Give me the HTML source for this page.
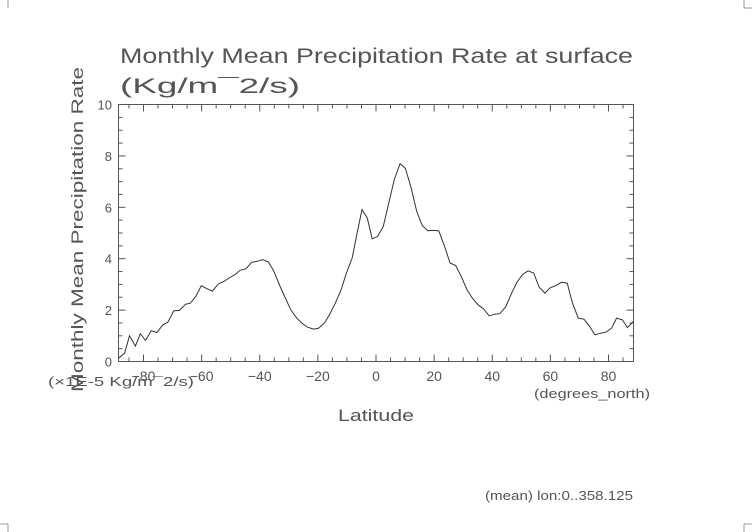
<!DOCTYPE html>
<html><head><meta charset="utf-8"><style>
html,body{margin:0;padding:0;background:#fff;}
svg{display:block;font-family:"Liberation Sans",sans-serif;}
text{fill:#555;}
</style></head><body>
<svg id="chart" width="752" height="532" viewBox="0 0 752 532">
<g stroke="#999" stroke-width="1">
<path d="M8 0v8M744 0v8M752 8h-8M8 532v-8M0 524h8M744 532v-8M752 524h-8" fill="none"/>
</g>
<text x="120" y="63" font-size="21" textLength="513" lengthAdjust="spacingAndGlyphs">Monthly Mean Precipitation Rate at surface</text>
<text x="120" y="93" font-size="21" textLength="180" lengthAdjust="spacingAndGlyphs">(Kg/m¯2/s)</text>
<text transform="translate(83,392) rotate(-90)" font-size="17" textLength="325" lengthAdjust="spacingAndGlyphs">Monthly Mean Precipitation Rate</text>
<text x="48" y="386" font-size="13" textLength="146" lengthAdjust="spacingAndGlyphs">(×1E-5 Kg/m¯2/s)</text>
<text x="376" y="421" font-size="17" text-anchor="middle" textLength="76" lengthAdjust="spacingAndGlyphs">Latitude</text>
<text x="650" y="398" font-size="13" text-anchor="end" textLength="116" lengthAdjust="spacingAndGlyphs">(degrees_north)</text>
<text x="633" y="500" font-size="13" text-anchor="end" fill="#777" textLength="148" lengthAdjust="spacingAndGlyphs">(mean) lon:0..358.125</text>
<g id="axes"></g>
<g id="marks"></g>
</svg>
<script>
const lats=[-88.6,-86.5,-84.8,-82.8,-81.1,-79.3,-77.3,-75.4,-73.3,-71.6,-69.6,-67.6,-65.5,-63.9,-62.0,-60.1,-58.1,-56.3,-54.3,-52.3,-50.5,-48.5,-46.8,-44.7,-42.8,-40.8,-39.0,-37.0,-35.1,-33.0,-31.2,-29.3,-27.3,-25.5,-23.6,-21.5,-19.8,-17.8,-16.0,-14.0,-12.0,-10.2,-8.2,-6.5,-4.8,-3.0,-1.3,0.6,2.5,4.4,6.3,8.3,10.1,12.1,14.0,15.9,17.8,19.5,21.6,23.6,25.5,27.4,29.3,31.3,33.1,35.1,37.0,38.9,40.8,42.6,44.6,46.6,48.5,50.4,52.3,54.3,56.1,58.1,59.8,61.9,63.8,65.8,67.6,69.6,71.5,73.4,75.3,77.3,79.1,81.1,82.8,84.8,86.5,88.6];
const precip=[0.13,0.32,1.0,0.6,1.08,0.82,1.2,1.13,1.43,1.53,1.97,1.99,2.23,2.27,2.53,2.95,2.83,2.74,3.01,3.12,3.25,3.38,3.55,3.61,3.86,3.9,3.96,3.87,3.5,2.92,2.47,2.01,1.69,1.49,1.34,1.26,1.29,1.49,1.82,2.27,2.79,3.44,4.03,5.0,5.91,5.58,4.77,4.87,5.26,6.17,7.08,7.7,7.51,6.75,5.84,5.29,5.09,5.1,5.08,4.48,3.83,3.74,3.31,2.79,2.47,2.21,2.05,1.78,1.84,1.86,2.12,2.64,3.09,3.38,3.53,3.44,2.9,2.66,2.86,2.96,3.08,3.05,2.27,1.69,1.65,1.39,1.04,1.1,1.14,1.3,1.69,1.62,1.32,1.56];
const xTicks=[-80,-60,-40,-20,0,20,40,60,80];
const yTicks=[0,2,4,6,8,10];
const NS="http://www.w3.org/2000/svg";
const X0=118.5,X1=633.5,Y0=361.5,Y1=104.5,LMIN=-88.6,LMAX=88.6,VMIN=0,VMAX=10;
function xs(v){return X0+(v-LMIN)/(LMAX-LMIN)*(X1-X0);}
function ys(v){return Y0-(v-VMIN)/(VMAX-VMIN)*(Y0-Y1);}
function mk(t,a,p){const e=document.createElementNS(NS,t);for(const k in a)e.setAttribute(k,a[k]);p.appendChild(e);return e;}
const ax=document.getElementById('axes');
const frame=mk('rect',{x:X0,y:Y1,width:X1-X0,height:Y0-Y1,fill:'none',stroke:'#555','stroke-width':1},ax);


for(let v=-85;v<=85;v+=5){const x=xs(v);const big=v%20===0;const L=big?7:4;
 mk('line',{x1:x,x2:x,y1:Y0,y2:Y0-L,stroke:'#555'},ax);mk('line',{x1:x,x2:x,y1:Y1,y2:Y1+L,stroke:'#555'},ax);}
for(let v=0;v<=10;v+=0.5){const y=ys(v);const big=v%2===0;const L=big?7:4;
 mk('line',{x1:X0,x2:X0+L,y1:y,y2:y,stroke:'#555'},ax);mk('line',{x1:X1,x2:X1-L,y1:y,y2:y,stroke:'#555'},ax);}
xTicks.forEach(v=>{const t=mk('text',{x:xs(v),y:381,'font-size':14,'text-anchor':'middle'},ax);t.textContent=(v<0?'−':'')+Math.abs(v);
 
 });
yTicks.forEach(v=>{const t=mk('text',{x:112,y:ys(v)+5,'font-size':13,'text-anchor':'end'},ax);t.textContent=v;
 
 });
const d=lats.map((l,i)=>(i?'L':'M')+xs(l).toFixed(1)+' '+ys(precip[i]).toFixed(1)).join(' ');
const line=mk('path',{d:d,fill:'none',stroke:'#333','stroke-width':1},document.getElementById('marks'));


</script>
</body></html>
